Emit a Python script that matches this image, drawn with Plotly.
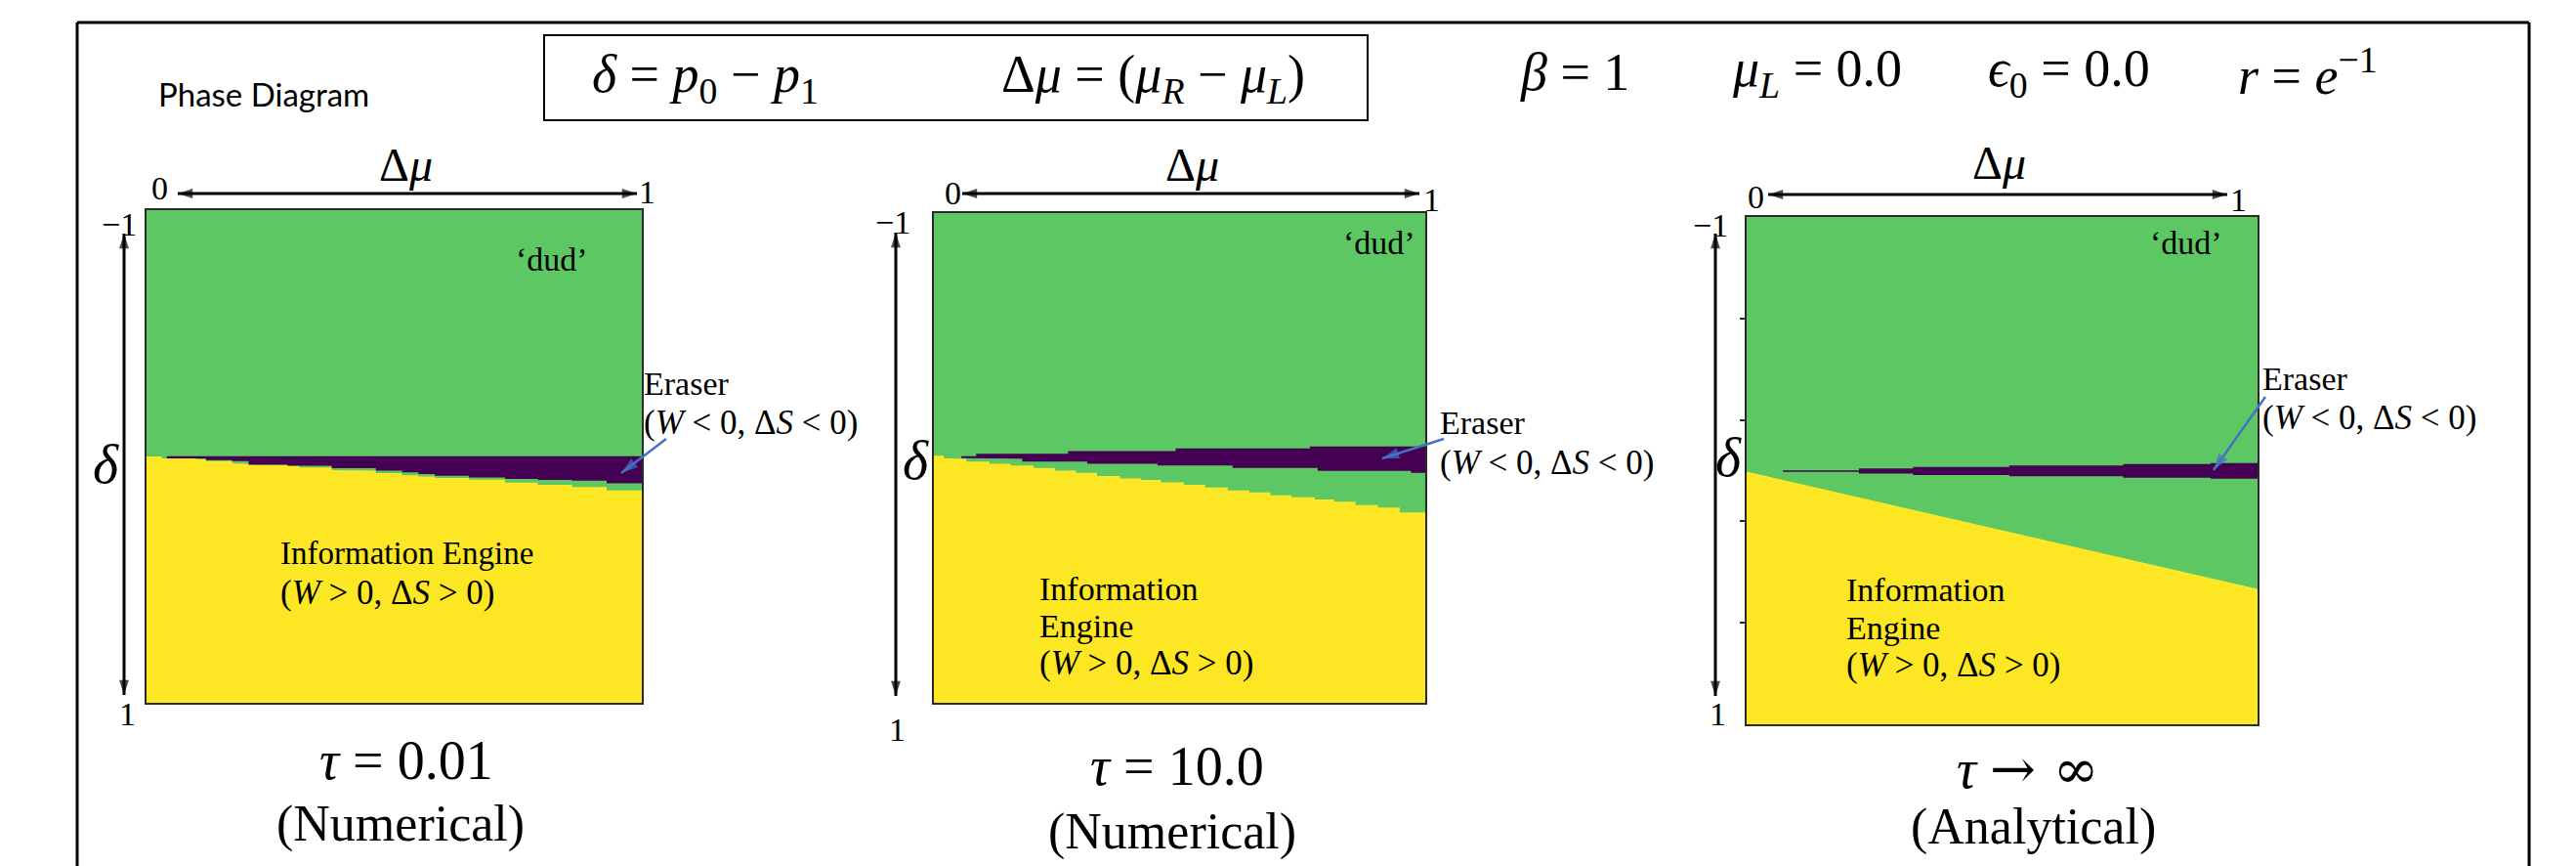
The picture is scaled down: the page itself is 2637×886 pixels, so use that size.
import math
import plotly.graph_objects as go

W, H = 2637, 886

# ---------------- data ----------------
C_ENGINE = "#FDE725"   # Information Engine (yellow)
C_DUD = "#5DC863"      # 'dud' (green)
C_ERASER = "#440154"   # Eraser (dark purple)

# Panel 1: tau = 0.01 (numerical)
p1_engine_edges = [0.0, 0.031, 0.100, 0.120, 0.173, 0.206, 0.219, 0.285, 0.308, 0.374, 0.447,
                   0.463, 0.516, 0.549, 0.582, 0.651, 0.724, 0.790, 0.859, 0.929, 1.0]
p1_engine_delta = [0.0, 0.008, 0.012, 0.019, 0.028, 0.031, 0.034, 0.038, 0.045, 0.056,
                   0.058, 0.067, 0.076, 0.081, 0.087, 0.094, 0.106, 0.115, 0.124, 0.138]
p1_eraser_edges = [0.041, 0.120, 0.173, 0.206, 0.285, 0.374, 0.463, 0.516, 0.549, 0.582,
                   0.651, 0.724, 0.790, 0.859, 0.929, 1.0]
p1_eraser_top = [-0.001] * 15
p1_eraser_bot = [0.008, 0.015, 0.019, 0.034, 0.038, 0.048, 0.058, 0.064, 0.071, 0.078,
                 0.085, 0.091, 0.095, 0.098, 0.109]

# Panel 2: tau = 10.0 (numerical)
p2_engine_edges = [0.0, 0.020, 0.056, 0.066, 0.113, 0.156, 0.203, 0.246, 0.289, 0.332, 0.379,
                   0.422, 0.462, 0.509, 0.552, 0.598, 0.642, 0.685, 0.728, 0.775, 0.815,
                   0.858, 0.904, 0.948, 1.0]
p2_engine_delta = [-0.009, 0.001, 0.004, 0.015, 0.024, 0.031, 0.041, 0.052, 0.061, 0.074,
                   0.084, 0.090, 0.100, 0.110, 0.121, 0.133, 0.141, 0.153, 0.161, 0.170,
                   0.179, 0.193, 0.203, 0.223]
p2_eraser_edges = [0.056, 0.086, 0.180, 0.273, 0.312, 0.455, 0.492, 0.608, 0.765, 0.781,
                   0.971, 1.0]
p2_eraser_top = [-0.007, -0.017, -0.017, -0.028, -0.028, -0.028, -0.039, -0.039, -0.047,
                 -0.047, -0.047]
p2_eraser_bot = [0.001, 0.003, 0.015, 0.015, 0.024, 0.031, 0.031, 0.041, 0.041, 0.053, 0.061]

# Panel 3: tau -> infinity (analytical)
p3_engine_dmu = [0.0, 1.0]
p3_engine_delta = [0.004, 0.466]
p3_eraser_edges = [0.071, 0.220, 0.326, 0.514, 0.737, 0.908, 1.0]
p3_eraser_top = [-0.001, -0.009, -0.014, -0.020, -0.026, -0.030]
p3_eraser_bot = [0.005, 0.012, 0.017, 0.022, 0.028, 0.032]
p3_ticks = [-0.6, -0.2, 0.2, 0.6]

dmu_range = [0, 1]
delta_range = [-1, 1]

tau_labels = ["<i>τ</i> = 0.01", "<i>τ</i> = 10.0",
              "<i>τ</i> <span style='font-family:DejaVu Serif;font-size:56px'>→ ∞</span>"]
method_labels = ["(Numerical)", "(Numerical)", "(Analytical)"]

# ---------------- helpers ----------------
def steps(edges, vals):
    xs, ys = [], []
    for i, v in enumerate(vals):
        xs += [edges[i], edges[i + 1]]
        ys += [v, v]
    return xs, ys


def px(x):
    return x / W


def py(y):
    return 1 - y / H


# panel boxes in page pixels (x0, x1, y0, y1)
panels = [(150, 657, 215, 719), (956, 1459, 218, 719), (1788, 2311, 222, 741)]

fig = go.Figure()


def ax_names(k):
    return ("x" if k == 1 else f"x{k}", "y" if k == 1 else f"y{k}")


def poly(xs, ys, color, k):
    xa, ya = ax_names(k)
    fig.add_trace(go.Scatter(x=xs, y=ys, mode="lines", fill="toself", fillcolor=color,
                             line=dict(width=0, color=color), hoverinfo="skip",
                             xaxis=xa, yaxis=ya))


def background(k):
    a, b = dmu_range
    c, d = delta_range
    poly([a, b, b, a], [c, c, d, d], C_DUD, k)


# panel 1
background(1)
xs, ys = steps(p1_engine_edges, p1_engine_delta)
poly(xs + [1.0, 0.0], ys + [1.0, 1.0], C_ENGINE, 1)
tx, ty = steps(p1_eraser_edges, p1_eraser_top)
bx, by = steps(p1_eraser_edges, p1_eraser_bot)
poly(tx + bx[::-1], ty + by[::-1], C_ERASER, 1)
# panel 2
background(2)
xs, ys = steps(p2_engine_edges, p2_engine_delta)
poly(xs + [1.0, 0.0], ys + [1.0, 1.0], C_ENGINE, 2)
tx, ty = steps(p2_eraser_edges, p2_eraser_top)
bx, by = steps(p2_eraser_edges, p2_eraser_bot)
poly(tx + bx[::-1], ty + by[::-1], C_ERASER, 2)
# panel 3
background(3)
poly(p3_engine_dmu + [1.0, 0.0], p3_engine_delta + [1.0, 1.0], C_ENGINE, 3)
tx, ty = steps(p3_eraser_edges, p3_eraser_top)
bx, by = steps(p3_eraser_edges, p3_eraser_bot)
poly(tx + bx[::-1], ty + by[::-1], C_ERASER, 3)

layout = dict(width=W, height=H, margin=dict(l=0, r=0, t=0, b=0), autosize=False,
              paper_bgcolor="white", plot_bgcolor="rgba(0,0,0,0)", showlegend=False)
for k, (x0, x1, y0, y1) in enumerate(panels, start=1):
    sx = "" if k == 1 else str(k)
    layout["xaxis" + sx] = dict(domain=[px(x0), px(x1)], range=dmu_range, showgrid=False,
                                zeroline=False, showticklabels=False, ticks="",
                                showline=True, mirror=True, linecolor="#2a2a2a", linewidth=1.5,
                                anchor="y" + sx, fixedrange=True)
    layout["yaxis" + sx] = dict(domain=[py(y1), py(y0)], range=delta_range[::-1], showgrid=False,
                                zeroline=False, showticklabels=False, ticks="",
                                showline=True, mirror=True, linecolor="#2a2a2a", linewidth=1.5,
                                anchor="x" + sx, fixedrange=True)
layout["yaxis3"].update(tickvals=p3_ticks, ticks="outside", ticklen=5, tickcolor="#2a2a2a",
                        tickwidth=1.5)
# overlay axis in page pixels for the drawn arrows
layout["xaxis4"] = dict(domain=[0, 1], range=[0, W], visible=False, anchor="y4", fixedrange=True)
layout["yaxis4"] = dict(domain=[0, 1], range=[H, 0], visible=False, anchor="x4", fixedrange=True)
fig.update_layout(**layout)


def arrow(x0, y0, x1, y1, color="black", width=3, size=16, both=True):
    ang = math.degrees(math.atan2(x1 - x0, -(y1 - y0)))
    sizes = [size if both else 0, size]
    fig.add_trace(go.Scatter(x=[x0, x1], y=[y0, y1], mode="lines+markers",
                             line=dict(color=color, width=width),
                             marker=dict(symbol="arrow", size=sizes, angle=[ang + 180, ang],
                                         color=color, line=dict(width=0)),
                             hoverinfo="skip", xaxis="x4", yaxis="y4", cliponaxis=False))


ann = []
SERIF = "Liberation Serif"


def sub(s, shift=12):
    return f"<span style='font-size:70%;baseline-shift:-{shift}px'>{s}</span>"


def sup(s, shift=22):
    return f"<span style='font-size:70%;baseline-shift:{shift}px'>{s}</span>"


def txt(s, x, y, size, family=SERIF, xanchor="center", yanchor="middle"):
    ann.append(dict(text=s, x=px(x), y=py(y), xref="paper", yref="paper", showarrow=False,
                    font=dict(family=family, size=size, color="black"),
                    xanchor=xanchor, yanchor=yanchor))


# header
txt("Phase Diagram", 160, 96, 33, family="Lato", xanchor="left")
txt("<i>δ</i> = <i>p</i>" + sub("0") + " − <i>p</i>" + sub("1"), 722, 80, 54)
txt("Δ<i>μ</i> = (<i>μ</i>" + sub("<i>R</i>") + " − <i>μ</i>" + sub("<i>L</i>") + ")", 1180, 80, 54)
txt("<i>β</i> = 1", 1612, 74, 54)
txt("<i>μ</i>" + sub("<i>L</i>") + " = 0.0", 1860, 74, 54)
txt("<i>ϵ</i>" + sub("0") + " = 0.0", 2118, 74, 54)
txt("<i>r</i> = <i>e</i>" + sup("−1"), 2362, 74, 54)

# per panel axes decorations
harrow = [(182, 652, 198), (985, 1453, 198), (1810, 2280, 199)]
varrow = [(127, 239, 711), (917, 238, 712), (1756, 239, 712)]
dmu_lab = [(415, 168), (1220, 168), (2046, 166)]
zero_lab = [(163, 193), (975, 197), (1797, 202)]
one_lab = [(662, 196), (1465, 204), (2291, 204)]
m1_lab = [(122, 229), (914, 227), (1751, 230)]
p1_lab = [(130, 730), (918, 746), (1758, 730)]
delta_lab = [(108, 475), (937, 471), (1770, 468)]
for k in range(3):
    a, b, y = harrow[k]
    arrow(a, y, b, y)
    x, a, b = varrow[k]
    arrow(x, a, x, b)
    txt("Δ<i>μ</i>", *dmu_lab[k], 48)
    txt("0", *zero_lab[k], 34)
    txt("1", *one_lab[k], 34)
    txt("−1", *m1_lab[k], 34)
    txt("1", *p1_lab[k], 34)
    txt("<i>δ</i>", *delta_lab[k], 56)

# phase labels
dud_lab = [(565, 265), (1412, 248), (2238, 248)]
for k in range(3):
    txt("‘dud’", *dud_lab[k], 34)

eraser_lab = [(657, 393, 432), (1472, 432, 473), (2314, 388, 428)]
for x, y1, y2 in eraser_lab:
    txt("Eraser", x, y1, 34, xanchor="left")
    txt("(<i>W</i> &lt; 0, Δ<i>S</i> &lt; 0)", x, y2, 35, xanchor="left")
eraser_ptr = [(682, 449, 636, 484), (1478, 449, 1415, 469), (2319, 406, 2266, 481)]
for x0, y0, x1, y1 in eraser_ptr:
    arrow(x0, y0, x1, y1, color="#4472C4", width=2.5, size=18, both=False)

txt("Information Engine", 285, 566, 33, xanchor="left")
txt("(<i>W</i> &gt; 0, Δ<i>S</i> &gt; 0)", 285, 606, 35, xanchor="left")
for x, ys in [(1062, (602, 640, 678)), (1888, (603, 642, 680))]:
    txt("Information", x, ys[0], 34, xanchor="left")
    txt("Engine", x, ys[1], 34, xanchor="left")
    txt("(<i>W</i> &gt; 0, Δ<i>S</i> &gt; 0)", x, ys[2], 35, xanchor="left")

tau_pos = [(416, 778), (1205, 784), (2075, 786)]
meth_pos = [(410, 843), (1200, 851), (2081, 846)]
for k in range(3):
    txt(tau_labels[k], *tau_pos[k], 56)
    txt(method_labels[k], *meth_pos[k], 52)

shapes = [
    dict(type="line", xref="paper", yref="paper", x0=px(79), x1=px(79), y0=py(23), y1=py(886),
         line=dict(color="black", width=3)),
    dict(type="line", xref="paper", yref="paper", x0=px(79), x1=px(2589), y0=py(23), y1=py(23),
         line=dict(color="black", width=3)),
    dict(type="line", xref="paper", yref="paper", x0=px(2589), x1=px(2589), y0=py(23), y1=py(886),
         line=dict(color="black", width=3)),
    dict(type="rect", xref="paper", yref="paper", x0=px(557), x1=px(1400), y0=py(123), y1=py(36),
         line=dict(color="black", width=2)),
]
fig.update_layout(annotations=ann, shapes=shapes)
fig.write_html("out.html", config={"displayModeBar": False},
               post_script="document.body.style.margin='0px';document.body.style.overflow='hidden';")
